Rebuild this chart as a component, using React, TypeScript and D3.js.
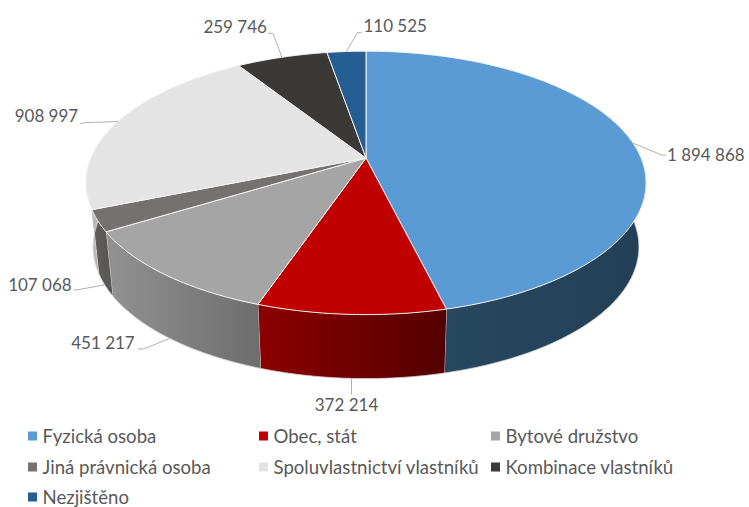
import React from "react";
import * as d3 from "d3";

// values
const categories = ["Fyzická osoba", "Obec, stát", "Bytové družstvo", "Jiná právnická osoba", "Spoluvlastnictví vlastníků", "Kombinace vlastníků", "Nezjištěno"];
const values = [1894868, 372214, 451217, 107068, 908997, 259746, 110525];
const labels = ["1 894 868", "372 214", "451 217", "107 068", "908 997", "259 746", "110 525"];
const colors = ["#5b9bd5", "#c00000", "#a5a5a5", "#767171", "#e4e4e4", "#3b3838", "#255e91"];
const wallLeft = ["#284860", "#8c0000", "#929292", "#625f5e", "#bdbdbd", "#2a2828", "#1b4467"];
const wallRight = ["#233f56", "#540000", "#6e6e6e", "#5a5857", "#a8a8a8", "#2a2828", "#1b4467"];

// perspective of the pie disc: top rim and bottom rim
const topPlane = { cx: 366, cy: 158, rx: 275, ry: 127, k: 0.189 };
const botPlane = { cx: 366, cy: 222, rx: 268, ry: 127, k: 0.189 };

function project(p: typeof topPlane, a: number): [number, number] {
  const u = Math.sin(a);
  const v = -Math.cos(a);
  const w = 1 - p.k * v;
  return [p.cx + (p.rx * u) / w, p.cy + (p.ry * v) / w];
}

const pie = d3.pie<number>().sort(null).startAngle(0).endAngle(2 * Math.PI);
const arcs = pie(values);
const line = d3.line();

function sample(a0: number, a1: number) {
  const n = Math.max(2, Math.ceil((a1 - a0) / 0.01));
  return d3.range(n + 1).map((i) => a0 + ((a1 - a0) * i) / n);
}

// wall only exists on the part of the rim facing the viewer
const wallFrom = (60 * Math.PI) / 180;
const wallTo = (300 * Math.PI) / 180;

// wall as one quad per step, so the tangent part between the two rims gets filled too
function wallPath(as: number[]) {
  return d3.pairs(as)
    .map(([a, b]) => line([project(topPlane, a), project(topPlane, b), project(botPlane, b), project(botPlane, a)]) + "Z")
    .join("");
}

// which rim each leader starts on, then elbow and label position relative to that point
const leaderPlane = [topPlane, botPlane, botPlane, botPlane, topPlane, topPlane, topPlane];
const leaderLayout = [
  { elbow: [29, 12], end: [33, 12], text: [34, 12], anchor: "start" },
  { elbow: [0, 10], end: [0, 16], text: [-5, 27], anchor: "middle" },
  { elbow: [-26, 10.5], end: [-32, 10.5], text: [-35, 4.5], anchor: "end" },
  { elbow: [-27, 5], end: [-31, 5], text: [-33, 0], anchor: "end" },
  { elbow: [-32, 1], end: [-38, 2], text: [-40, -6], anchor: "end" },
  { elbow: [-9, -24], end: [-14, -24], text: [-15, -30], anchor: "end" },
  { elbow: [11, -19], end: [15, -19], text: [17, -25], anchor: "start" },
];

// legend grid
const legendCols = [28, 259, 491];
const legendRows = [436, 467, 497];
const FONT = "Lato, 'Open Sans', sans-serif";

export default function App() {
  return (
    <svg width={749} height={507} style={{ position: "absolute", left: 0, top: 0 }} fontFamily={FONT}>
      <defs>
        {arcs.map((d, i) => {
          const a0 = Math.max(d.startAngle, wallFrom);
          const a1 = Math.min(d.endAngle, wallTo);
          if (a1 <= a0) return null;
          const xs = sample(a0, a1).map((a) => project(topPlane, a)[0]);
          return (
            <linearGradient key={i} id={`wall${i}`} gradientUnits="userSpaceOnUse" x1={d3.min(xs)} x2={d3.max(xs)} y1={0} y2={0}>
              <stop offset="0%" stopColor={wallLeft[i]} />
              <stop offset="100%" stopColor={wallRight[i]} />
            </linearGradient>
          );
        })}
      </defs>

      {/* outer walls */}
      {arcs.map((d, i) => {
        const a0 = Math.max(d.startAngle, wallFrom);
        const a1 = Math.min(d.endAngle, wallTo);
        if (a1 <= a0) return null;
        const as = sample(a0, a1);
        return (
          <g key={i}>
            <path d={wallPath(as)} fill={`url(#wall${i})`} />
            <path d={line(as.map((a) => project(botPlane, a))) as string} fill="none" stroke="#d4d4d4" strokeWidth={0.8} />
            <path d={line([project(topPlane, a1), project(botPlane, a1)]) as string} fill="none" stroke="#e3e3e3" strokeWidth={0.8} />
          </g>
        );
      })}

      {/* top faces */}
      {arcs.map((d, i) => {
        const pts: [number, number][] = [[topPlane.cx, topPlane.cy], ...sample(d.startAngle, d.endAngle).map((a) => project(topPlane, a))];
        return <path key={i} d={line(pts) + "Z"} fill={colors[i]} stroke="#f4f4f4" strokeWidth={1} strokeLinejoin="round" />;
      })}

      {/* leaders and value labels */}
      {arcs.map((d, i) => {
        const [x, y] = project(leaderPlane[i], (d.startAngle + d.endAngle) / 2);
        const l = leaderLayout[i];
        const pts: [number, number][] = [[x, y], [x + l.elbow[0], y + l.elbow[1]], [x + l.end[0], y + l.end[1]]];
        return (
          <g key={i}>
            <path d={line(pts) as string} fill="none" stroke="#b0b0b0" strokeWidth={1} />
            <text x={x + l.text[0]} y={y + l.text[1]} dy="0.35em" textAnchor={l.anchor} fontSize={17} fill="#595959">
              {labels[i]}
            </text>
          </g>
        );
      })}

      {/* legend */}
      {categories.map((c, i) => {
        const x = legendCols[i % 3];
        const y = legendRows[Math.floor(i / 3)];
        return (
          <g key={c}>
            <rect x={x} y={y - 4.5} width={9} height={9} fill={colors[i]} />
            <text x={x + 14.5} y={y} dy="0.35em" fontSize={18.6} fill="#595959">
              {c}
            </text>
          </g>
        );
      })}
    </svg>
  );
}
